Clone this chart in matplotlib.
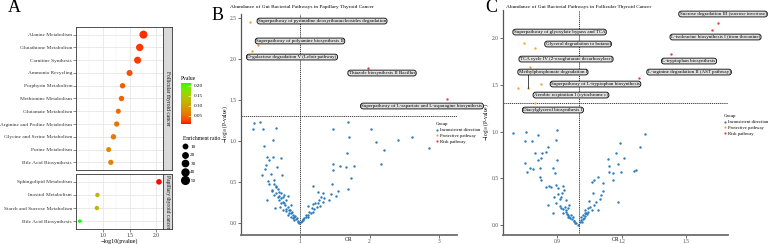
import numpy as np
import matplotlib
matplotlib.use('Agg')
import matplotlib.pyplot as plt
from matplotlib.colors import ListedColormap, Normalize
from matplotlib.cm import ScalarMappable
from matplotlib.lines import Line2D

plt.rcParams['font.family'] = ['Liberation Serif', 'DejaVu Serif']
plt.rcParams['mathtext.fontset'] = 'stix'

# ---------------- Panel A data ----------------
ftc_pathways = ['Alanine Metabolism', 'Glutathione Metabolism', 'Carnitine Synthesis',
                'Ammonia Recycling', 'Porphyrin Metabolism', 'Methionine Metabolism',
                'Glutamate Metabolism', 'Arginine and Proline Metabolism',
                'Glycine and Serine Metabolism', 'Purine Metabolism', 'Bile Acid Biosynthesis']
ftc_logp = [1.76, 1.69, 1.65, 1.50, 1.37, 1.35, 1.29, 1.26, 1.20, 1.11, 1.15]
ftc_ratio = [55, 45, 40, 26, 20, 19, 16, 18, 20, 16, 18]
ptc_pathways = ['Sphingolipid Metabolism', 'Inositol Metabolism',
                'Starch and Sucrose Metabolism', 'Bile Acid Biosynthesis']
ptc_logp = [2.05, 0.90, 0.89, 0.57]
ptc_ratio = [22, 10, 10, 2]
strip_labels = ['Follicular thyroid cancer', 'Papillary thyroid cancer']
size_breaks = [10, 20, 30, 40, 50]
p_breaks = [0.05, 0.10, 0.15, 0.20]
x_breaks_A = [1.0, 1.5, 2.0]

# ---------------- Panel B data ----------------
b_incons_or = [0.343, 0.424, 0.319, 0.472, 0.655, 0.607, 0.487, 0.520, 0.607, 0.559, 0.727, 0.511,
               0.669, 0.496, 0.448, 0.583, 0.736, 0.535, 0.631, 0.559, 0.655, 0.592, 0.703, 0.655,
               0.727, 0.621, 0.775, 0.679, 0.751, 0.823, 0.525, 0.703, 0.799, 0.727, 0.775, 0.871,
               0.640, 0.717, 0.823, 0.751, 0.799, 0.847, 0.871, 0.823, 0.871, 0.918, 0.894, 0.942,
               0.966, 0.918, 0.976, 0.990, 0.93, 0.95, 0.90, 0.88, 0.86, 0.84, 0.80, 0.78, 0.76,
               0.73, 0.70, 0.69, 0.66, 0.62, 0.60,
               1.470, 1.686, 2.022, 1.710, 2.094, 2.405, 2.607, 2.861, 2.204, 2.165, 1.676, 1.470,
               1.576, 1.662, 1.782, 1.470, 1.734, 1.460, 1.686, 1.552, 1.264, 1.336, 1.446, 1.518,
               1.182, 1.302, 1.350, 1.412, 1.326, 1.264, 1.182, 1.293, 1.110, 1.168, 1.134, 1.086,
               1.158, 1.110, 1.062, 1.038, 1.014, 1.05, 1.08, 1.12, 1.03, 1.20, 1.24, 1.18, 1.22, 1.28]
b_incons_y = [1.224, 1.236, 1.142, 1.142, 1.163, 1.012, 0.939, 0.809, 0.809, 0.768, 0.797, 0.707,
              0.687, 0.654, 0.585, 0.598, 0.585, 0.512, 0.524, 0.472, 0.443, 0.394, 0.374, 0.362,
              0.362, 0.341, 0.341, 0.321, 0.321, 0.333, 0.280, 0.280, 0.280, 0.248, 0.240, 0.220,
              0.187, 0.199, 0.199, 0.159, 0.146, 0.159, 0.118, 0.098, 0.077, 0.077, 0.057, 0.049,
              0.024, 0.037, 0.008, 0.000, 0.09, 0.06, 0.10, 0.13, 0.16, 0.12, 0.17, 0.22, 0.26,
              0.30, 0.33, 0.42, 0.45, 0.48, 0.40,
              1.146, 1.228, 1.146, 1.053, 0.984, 1.012, 1.053, 0.919, 0.890, 0.720, 0.858, 0.715,
              0.695, 0.679, 0.695, 0.646, 0.553, 0.472, 0.415, 0.394, 0.382, 0.370, 0.350, 0.333,
              0.451, 0.321, 0.309, 0.280, 0.260, 0.240, 0.228, 0.211, 0.211, 0.179, 0.130, 0.098,
              0.118, 0.077, 0.057, 0.037, 0.016, 0.05, 0.07, 0.10, 0.03, 0.17, 0.20, 0.14, 0.25, 0.28]
b_prot_names = ['Superpathway of pyrimidine deoxyribonucleosides degradation',
                'Superpathway of polyamine biosynthesis II',
                'D-galactose degradation V (Leloir pathway)']
b_prot_or = [0.28, 0.40, 0.31]
b_prot_y = [2.45, 2.17, 2.10]
b_risk_names = ['Thiazole biosynthesis II Bacillus',
                'Superpathway of L-aspartate and L-asparagine biosynthesis']
b_risk_or = [1.98, 3.11]
b_risk_y = [1.89, 1.51]
x_breaks_B = [1, 2, 3]
y_breaks_B = [0.0, 0.5, 1.0, 1.5, 2.0, 2.5]

# ---------------- Panel C data ----------------
c_incons_or = [0.695, 0.757, 0.753, 0.784, 0.811, 0.901, 0.896, 0.857, 0.850, 0.798, 0.831, 0.826,
               0.811, 0.749, 0.775, 0.761, 0.788, 0.819, 0.881, 0.899, 0.893, 0.822, 0.826, 0.850,
               0.862, 0.873, 0.896, 0.904, 0.927, 0.932, 0.924, 0.904, 0.919, 0.912, 0.943, 0.896,
               0.915, 0.935, 0.927, 0.958, 0.950, 0.940, 0.950, 0.966, 0.958, 0.974, 0.981, 0.989,
               0.997, 0.881, 0.857, 0.888, 0.945, 0.953, 0.962, 0.970, 0.978, 0.985, 0.93, 0.94, 0.92,
               1.307, 1.194, 1.284, 1.172, 1.211, 1.136, 1.183, 1.144, 1.265, 1.256, 1.141, 1.160,
               1.198, 1.090, 1.074, 1.064, 1.160, 1.113, 1.067, 1.113, 1.105, 1.183, 1.098, 1.082,
               1.051, 1.074, 1.054, 1.043, 1.064, 1.028, 1.036, 1.020, 1.012, 1.020, 1.005, 1.028,
               1.090, 1.010, 1.015, 1.025, 1.030, 1.040, 1.045]
c_incons_y = [0.980, 0.991, 0.902, 0.898, 0.963, 1.016, 0.909, 0.838, 0.784, 0.766, 0.766, 0.713,
              0.695, 0.660, 0.606, 0.570, 0.595, 0.606, 0.606, 0.695, 0.553, 0.517, 0.481, 0.410,
              0.417, 0.403, 0.428, 0.392, 0.417, 0.374, 0.346, 0.328, 0.303, 0.275, 0.267, 0.232,
              0.203, 0.196, 0.168, 0.214, 0.178, 0.143, 0.107, 0.107, 0.082, 0.082, 0.046, 0.025,
              0.000, 0.125, 0.214, 0.303, 0.120, 0.090, 0.070, 0.060, 0.040, 0.020, 0.13, 0.16, 0.18,
              0.970, 0.881, 0.838, 0.774, 0.713, 0.702, 0.649, 0.631, 0.588, 0.578, 0.570, 0.553,
              0.570, 0.510, 0.481, 0.463, 0.481, 0.446, 0.346, 0.367, 0.321, 0.250, 0.275, 0.250,
              0.260, 0.214, 0.196, 0.178, 0.160, 0.160, 0.132, 0.107, 0.089, 0.061, 0.036, 0.125,
              0.160, 0.050, 0.030, 0.080, 0.100, 0.120, 0.140]
c_prot_names = ['Superpathway of glyoxylate bypass and TCA', 'Glycerol degradation to butanol',
                'TCA cycle IV (2-oxoglutarate decarboxylase)', 'Methylphosphonate degradation I',
                'Superpathway of L-tryptophan biosynthesis', 'Aerobic respiration I (cytochrome c)',
                'Diacylglycerol biosynthesis I']
c_prot_or = [0.746, 0.800, 0.775, 0.763, 0.826, 0.720, 0.800]
c_prot_y = [1.95, 1.89, 1.69, 1.463, 1.51, 1.47, 1.30]
c_risk_names = ['Sucrose degradation III (sucrose invertase)',
                'L-isoleucine biosynthesis I (from threonine)',
                'L-tryptophan biosynthesis', 'L-arginine degradation II (AST pathway)']
c_risk_or = [1.65, 1.62, 1.43, 1.28]
c_risk_y = [2.16, 2.09, 1.83, 1.57]
x_breaks_C = [0.9, 1.2, 1.5]
y_breaks_C = [0.0, 0.5, 1.0, 1.5, 2.0]
group_labels = ['Inconsistent direction', 'Protective pathway', 'Risk pathway']

# ---------------- label layout (positions of repelled labels) ----------------
b_prot_lab = [(1.317, 2.463), (1.0, 2.22), (0.885, 2.024)]
b_risk_lab = [(2.18, 1.829), (2.755, 1.427)]
c_prot_lab = [(0.912, 2.064), (0.998, 1.936), (0.942, 1.775), (0.881, 1.636),
              (1.079, 1.508), (0.965, 1.390), (0.881, 1.230)]
c_risk_lab = [(1.672, 2.257), (1.637, 2.011), (1.514, 1.754), (1.514, 1.636)]
c_segments = [3]

# ---------------- styles ----------------
W, H = 778, 244
col_inc, col_prot, col_risk = '#2b7bba', '#f4a736', '#e8413c'
fs_tick, fs_lab, fs_title, fs_leg = 4.0, 3.6, 3.9, 3.3
grey_txt = '#333333'

def fx(px):
    return px / W

def rect(x0, y0, x1, y1):
    return [x0 / W, 1 - y1 / H, (x1 - x0) / W, (y1 - y0) / H]

# colormap: ggplot-like red->green gradient interpolated in Lab
def lab2rgb(L, a, b):
    fy = (L + 16) / 116.0
    fxx = fy + a / 500.0
    fz = fy - b / 200.0
    def finv(t):
        return t ** 3 if t ** 3 > 0.008856 else (t - 16 / 116.0) / 7.787
    X, Y, Z = 0.95047 * finv(fxx), finv(fy), 1.08883 * finv(fz)
    r = 3.2406 * X - 1.5372 * Y - 0.4986 * Z
    g = -0.9689 * X + 1.8758 * Y + 0.0415 * Z
    bb = 0.0557 * X - 0.2040 * Y + 1.0570 * Z
    out = []
    for c in (r, g, bb):
        c = 12.92 * c if c <= 0.0031308 else 1.055 * c ** (1 / 2.4) - 0.055
        out.append(min(max(c, 0), 1))
    return out

lab_red = np.array([53.24, 80.09, 67.20])
lab_green = np.array([87.73, -86.18, 83.18])
cm_cols = [lab2rgb(*(lab_red + t * (lab_green - lab_red))) for t in np.linspace(0, 1, 256)]
cmap = ListedColormap(cm_cols)
norm = Normalize(vmin=0.008, vmax=0.215, clip=True)

def size_of(v):
    return 5 + 0.52 * np.asarray(v, dtype=float)

fig = plt.figure(figsize=(W / 100, H / 100), dpi=100)

# ---------------- Panel A ----------------
def dot_panel(ax, names, logp, ratio, show_x):
    n = len(names)
    yy = np.arange(n)
    pv = 10 ** (-np.asarray(logp))
    ax.scatter(logp, yy, s=size_of(ratio), c=cmap(norm(pv)), zorder=3, linewidths=0)
    ax.set_ylim(n - 1 + 0.6, -0.6)
    ax.set_xlim(0.50, 2.125)
    ax.set_yticks(yy)
    ax.set_yticklabels(names, fontsize=3.85, color=grey_txt)
    ax.set_xticks(x_breaks_A)
    ax.set_xticks([0.75, 1.25, 1.75], minor=True)
    ax.set_axisbelow(True)
    ax.grid(True, which='major', color='#e6e6e6', lw=0.6)
    ax.grid(True, which='minor', axis='x', color='#f0f0f0', lw=0.35)
    ax.tick_params(which='major', length=2, width=0.4, color='#333333', pad=0.8)
    ax.tick_params(which='minor', length=0)
    if show_x:
        ax.set_xticklabels(['1.0', '1.5', '2.0'], fontsize=fs_tick, color=grey_txt)
    else:
        ax.tick_params(axis='x', labelbottom=False, length=0)
    for sp in ax.spines.values():
        sp.set_color('#333333')
        sp.set_linewidth(0.6)

axA1 = fig.add_axes(rect(76, 27, 163, 170))
dot_panel(axA1, ftc_pathways, ftc_logp, ftc_ratio, False)
axA2 = fig.add_axes(rect(76, 174, 163, 229))
dot_panel(axA2, ptc_pathways, ptc_logp, ptc_ratio, True)
axA2.set_xlabel('\u2212log10(pvalue)', fontsize=4.3, color='black')
axA2.xaxis.set_label_coords(0.5, -0.165)

for (y0, y1), lab in zip([(27, 170), (174, 229)], strip_labels):
    sax = fig.add_axes(rect(163, y0, 172, y1))
    sax.set_facecolor('#d9d9d9')
    sax.set_xticks([]); sax.set_yticks([])
    for sp in sax.spines.values():
        sp.set_color('#333333'); sp.set_linewidth(0.6)
    sax.text(0.5, 0.5, lab, rotation=270, ha='center', va='center', fontsize=fs_tick,
             color='#1a1a1a', transform=sax.transAxes)

# colourbar
cax = fig.add_axes(rect(181, 83, 191, 124))
cb = fig.colorbar(ScalarMappable(norm=norm, cmap=cmap), cax=cax)
cb.set_ticks(p_breaks)
cb.set_ticklabels(['%.2f' % p for p in p_breaks])
cb.outline.set_visible(False)
cax.tick_params(labelsize=3.7, length=2, width=0.4, color='white', direction='in', pad=2)
fig.text(fx(181), 1 - 78 / H, 'Pvalue', fontsize=4.0, ha='left', va='center')

size_handles = [Line2D([], [], ls='none', marker='o', color='black',
                       markersize=np.sqrt(size_of(v))) for v in size_breaks]
axA2.legend(size_handles, [str(v) for v in size_breaks], title='Enrichment ratio',
            loc='upper left', bbox_to_anchor=(fx(180), 1 - 133 / H),
            bbox_transform=fig.transFigure, frameon=False, fontsize=3.7,
            title_fontsize=4.0, alignment='left', borderpad=0, labelspacing=0.75,
            handlelength=1.0, handletextpad=0.5)

fig.text(fx(8), 1 - 8 / H, 'A', fontsize=13, ha='left', va='center')

# ---------------- volcano panels ----------------
def volcano(ax, inc_or, inc_y, prot_or, prot_y, prot_names, prot_lab, risk_or, risk_y,
            risk_names, risk_lab, xb, xlabels, yb, xlim, ylim, segs=()):
    ax.scatter(inc_or, inc_y, s=3, color=col_inc, linewidths=0, zorder=3)
    ax.scatter(prot_or, prot_y, s=3, color=col_prot, linewidths=0, zorder=3)
    ax.scatter(risk_or, risk_y, s=3, color=col_risk, linewidths=0, zorder=3)
    ax.axvline(1, ls=(0, (1.5, 1)), color='#222222', lw=0.6, zorder=2)
    ax.axhline(-np.log10(0.05), ls=(0, (1.5, 1)), color='#222222', lw=0.6, zorder=2)
    bbox = dict(boxstyle='round,pad=0.18,rounding_size=0.5', fc='#e2e2e2', ec='black', lw=0.6)
    for i, (nm, (lx, ly)) in enumerate(zip(prot_names, prot_lab)):
        ax.text(lx, ly, nm, ha='center', va='center', fontsize=fs_lab, bbox=bbox, zorder=5)
        if i in segs:
            ax.plot([prot_or[i], prot_or[i]], [prot_y[i], ly], color='black', lw=0.5, zorder=4)
    for nm, (lx, ly) in zip(risk_names, risk_lab):
        ax.text(lx, ly, nm, ha='center', va='center', fontsize=fs_lab, bbox=bbox, zorder=5)
    ax.set_xlim(*xlim)
    ax.set_ylim(*ylim)
    ax.set_xticks(xb)
    ax.set_xticklabels(xlabels, fontsize=fs_tick, color='#4d4d4d')
    ax.set_yticks(yb)
    ax.set_yticklabels(['%.1f' % v for v in yb], fontsize=fs_tick, color='#4d4d4d')
    ax.tick_params(length=2, width=0.5, color='#333333', pad=1)
    for s in ('top', 'right'):
        ax.spines[s].set_visible(False)
    ax.spines['left'].set_color('#555555'); ax.spines['left'].set_linewidth(0.9)
    ax.spines['bottom'].set_color('#6e6e6e'); ax.spines['bottom'].set_linewidth(1.3)
    ax.set_xlabel('OR', fontsize=fs_tick)
    ax.set_ylabel('$-\\log_{10}$(P-value)', fontsize=fs_tick)
    handles = [Line2D([], [], ls='none', marker='o', markersize=1.6, color=c, markeredgewidth=0)
               for c in (col_inc, col_prot, col_risk)]
    return handles

axB = fig.add_axes(rect(241, 14, 457, 235))
hB = volcano(axB, b_incons_or, b_incons_y, b_prot_or, b_prot_y, b_prot_names, b_prot_lab,
             b_risk_or, b_risk_y, b_risk_names, b_risk_lab, x_breaks_B, ['1', '2', '3'],
             y_breaks_B, (0.151, 3.259), (-0.146, 2.549))
axB.xaxis.set_label_coords(0.5, -0.01)
axB.yaxis.set_label_coords(-0.052, 0.5)
axB.legend(hB, group_labels, title='Group', loc='upper left', bbox_to_anchor=(fx(433), 1 - 120 / H),
           bbox_transform=fig.transFigure, frameon=False, fontsize=fs_leg, title_fontsize=3.5,
           alignment='left', borderpad=0, labelspacing=0.35, handlelength=0.6, handletextpad=0.4)
fig.text(fx(212), 1 - 16 / H, 'B', fontsize=13, ha='left', va='center')
fig.text(fx(230), 1 - 7 / H, 'Abundance of Gut Bacterial Pathways in Papillary Thyroid Cancer',
         fontsize=fs_title, ha='left', va='center')

axC = fig.add_axes(rect(503, 10, 728, 235))
hC = volcano(axC, c_incons_or, c_incons_y, c_prot_or, c_prot_y, c_prot_names, c_prot_lab,
             c_risk_or, c_risk_y, c_risk_names, c_risk_lab, x_breaks_C, ['0.9', '1.2', '1.5'],
             y_breaks_C, (0.649, 1.695), (-0.107, 2.30), segs=c_segments)
axC.xaxis.set_label_coords(0.5, -0.01)
axC.yaxis.set_label_coords(-0.052, 0.5)
axC.legend(hC, group_labels, title='Group', loc='upper left', bbox_to_anchor=(fx(721), 1 - 112 / H),
           bbox_transform=fig.transFigure, frameon=False, fontsize=fs_leg, title_fontsize=3.5,
           alignment='left', borderpad=0, labelspacing=0.35, handlelength=0.6, handletextpad=0.4)
fig.text(fx(485), 1 - 8 / H, 'C', fontsize=13, ha='left', va='center')
fig.text(fx(506), 1 - 7 / H, 'Abundance of Gut Bacterial Pathways in Follicular Thyroid Cancer',
         fontsize=fs_title, ha='left', va='center')

fig.savefig('out.png', dpi=100)
